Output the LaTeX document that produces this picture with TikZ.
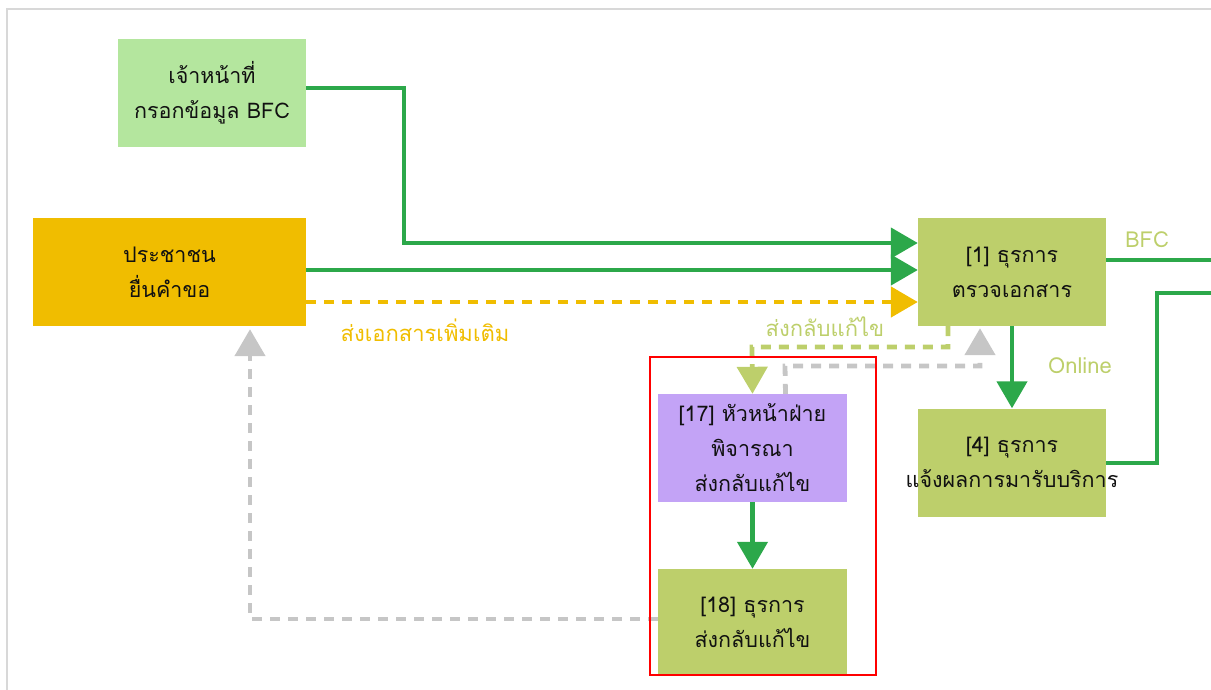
\documentclass[tikz,border=0pt]{standalone}
\usepackage{fontspec}
\setmainfont[Script=Thai]{Loma}
\usetikzlibrary{arrows.meta}
\definecolor{staffgreen}{HTML}{B4E69E}
\definecolor{citizenyellow}{HTML}{F0BD00}
\definecolor{olive}{HTML}{BDCF6B}
\definecolor{lilac}{HTML}{C3A3F6}
\definecolor{flowgreen}{HTML}{2CA84A}
\definecolor{dashgray}{HTML}{C6C6C6}
\definecolor{framegray}{HTML}{D8D8D8}
\definecolor{inktext}{HTML}{111111}
\tikzset{
  box/.style={inner sep=0pt, minimum width=188pt, minimum height=108pt,
    align=center, text=inktext, font=\fontsize{21.5}{35}\selectfont},
  lbl/.style={inner sep=0pt, font=\fontsize{22}{24}\selectfont},
  tip/.style={-{Triangle[length=27pt,width=30pt]}},
  flow/.style={draw=flowgreen, line width=4.5pt},
  dashflow/.style={line width=4.8pt, dash pattern=on 10pt off 8pt},
}
\begin{document}
\begin{tikzpicture}[x=1pt,y=-1pt]
\useasboundingbox (0,0) rectangle (1211,689);
% outer frame
\draw[framegray, line width=1.5pt] (7,700) -- (7,9) -- (1220,9);

% boxes
\node[box, fill=staffgreen] (staff) at (212,93) {เจ้าหน้าที่\\กรอกข้อมูล BFC};
\node[box, fill=citizenyellow, minimum width=273pt] (citizen) at (169.5,272) {ประชาชน\\ยื่นคำขอ};
\node[box, fill=olive] (chk) at (1012,272) {[1] ธุรการ\\ตรวจเอกสาร};
\node[box, fill=olive] (notify) at (1012,462.5) {[4] ธุรการ\\\makebox[0pt]{แจ้งผลการมารับบริการ}};
\node[box, fill=lilac, minimum width=189pt] (head) at (752.5,448) {[17] หัวหน้าฝ่าย\\พิจารณา\\ส่งกลับแก้ไข};
\node[box, fill=olive, minimum width=189pt, minimum height=107pt] (ret) at (752.5,622.5) {[18] ธุรการ\\ส่งกลับแก้ไข};

% free ends at the right edge
\coordinate (outA) at (1220,260);
\coordinate (outB) at (1220,293);

% solid green flows
\draw[flow, tip, flowgreen] ([yshift=5pt]staff.east) -- (404,88) -- (404,243) -- ([yshift=29pt]chk.west);
\draw[flow, tip, flowgreen] ([yshift=2pt]citizen.east) -- ([yshift=2pt]chk.west);
\draw[flow, tip, flowgreen] (chk.south) -- (notify.north);
\draw[flow, tip, flowgreen] (head.south) -- (ret.north);
\draw[flow] ([yshift=12pt]chk.east) -- (outA);
\draw[flow] ([yshift=-0.5pt]notify.east) -- (1157,463) -- (1157,293) -- (outB);

% dashed flows
\draw[dashflow, citizenyellow, tip] ([yshift=-30pt]citizen.east) -- ([yshift=-30pt]chk.west);
\draw[dashflow, olive, tip] ([xshift=-64pt]chk.south) -- (948,347) -- (752,347) -- (head.north);
\draw[dashflow, dashgray, tip, shorten >=2pt] ([xshift=33pt]head.north) -- (785,366) -- (980,366) -- ([xshift=-32pt]chk.south);
\draw[dashflow, dashgray, tip, shorten >=3pt] ([yshift=3.5pt]ret.west) -- (250,619) -- ([xshift=80.5pt]citizen.south);

% labels
\node[lbl, text=citizenyellow] (addlbl) at (425,330) {ส่งเอกสารเพิ่มเติม};
\node[lbl, text=olive] (retlbl) at (825,327) {ส่งกลับแก้ไข};
\node[lbl, text=olive] (bfclbl) at (1147,240) {BFC};
\node[lbl, text=olive] (onllbl) at (1080,366) {Online};

% highlight frame
\draw[red, line width=2.8pt] (650,357) rectangle (876,675);
\end{tikzpicture}
\end{document}
